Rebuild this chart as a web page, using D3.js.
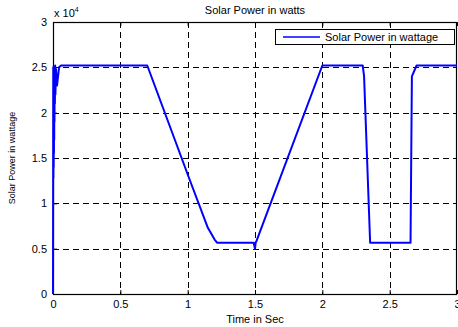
<!DOCTYPE html>
<html>
<head>
<meta charset="utf-8">
<script src="https://cdn.jsdelivr.net/npm/d3@7"></script>
<style>
  body { margin: 0; background: #fff; }
  text { font-family: "Liberation Sans", Arial, sans-serif; }
</style>
</head>
<body>
<div id="chart"></div>
<script>
// time in seconds
const timeSec = [0, 0.002, 0.003, 0.004, 0.005, 0.006, 0.007, 0.008, 0.009, 0.010, 0.011, 0.012, 0.014, 0.016, 0.018, 0.022, 0.030, 0.045, 0.060,
  0.70, 1.015, 1.15, 1.20, 1.22, 1.49, 1.50, 1.505, 1.51, 2.0,
  2.30, 2.31, 2.355, 2.655, 2.665, 2.70, 3.0];
// power in watts
const solarPower = [0, 25000, 12800, 24600, 14000, 25000, 15500, 24800, 17000, 25100, 19000, 24500, 21000, 25200, 22000, 24800, 23000, 25000, 25200,
  25200, 12600, 7300, 6000, 5650, 5650, 5000, 5700, 5800, 25200,
  25200, 24000, 5650, 5650, 24000, 25200, 25200];
const xTicks = [0, 0.5, 1, 1.5, 2, 2.5, 3];
const yTicks = [0, 5000, 10000, 15000, 20000, 25000, 30000];
const yTickLabels = ["0", "0.5", "1", "1.5", "2", "2.5", "3"];

const W = 458, H = 327;
const margin = {top: 22, right: 1, bottom: 33, left: 53};
const width = W - margin.left - margin.right,
      height = H - margin.top - margin.bottom;

const svg = d3.select("#chart").append("svg")
  .attr("width", W).attr("height", H);
const g = svg.append("g")
  .attr("transform", `translate(${margin.left},${margin.top})`);

const x = d3.scaleLinear().domain([0, 3]).range([0, width]);
const y = d3.scaleLinear().domain([0, 30000]).range([height, 0]);

// grid lines
g.append("g").selectAll("line")
  .data(xTicks.slice(1, -1))
  .join("line")
    .attr("x1", d => Math.round(x(d)) + 0.5).attr("x2", d => Math.round(x(d)) + 0.5)
    .attr("y1", 0).attr("y2", height)
    .attr("stroke", "#000").attr("stroke-dasharray", "6,4");
g.append("g").selectAll("line")
  .data(yTicks.slice(1, -1))
  .join("line")
    .attr("x1", 0).attr("x2", width)
    .attr("y1", d => Math.round(y(d)) + 0.5).attr("y2", d => Math.round(y(d)) + 0.5)
    .attr("stroke", "#000").attr("stroke-dasharray", "6,4");

// axes
g.append("g")
  .attr("transform", `translate(0,${height})`)
  .call(d3.axisBottom(x).tickValues(xTicks).tickFormat(d3.format("")).tickSizeInner(-4).tickSizeOuter(0).tickPadding(6))
  .call(a => a.select(".domain").remove())
  .selectAll("text").style("font-size", "11px").attr("fill", "#000");
g.append("g")
  .call(d3.axisLeft(y).tickValues(yTicks).tickFormat((d, i) => yTickLabels[i]).tickSizeInner(-4).tickSizeOuter(0).tickPadding(6))
  .call(a => a.select(".domain").remove())
  .selectAll("text").style("font-size", "11px").attr("fill", "#000");
// top ticks
g.append("g")
  .call(d3.axisTop(x).tickValues(xTicks).tickFormat("").tickSizeInner(-4).tickSizeOuter(0))
  .call(a => a.select(".domain").remove());

// frame
g.append("rect")
  .attr("x", 0.5).attr("y", 0.5)
  .attr("width", width - 1).attr("height", height)
  .attr("fill", "none").attr("stroke", "#000").attr("stroke-width", 1.2);

// data line
const pts = timeSec.map((t, i) => [t, solarPower[i]]);
g.append("path")
  .datum(pts)
  .attr("fill", "none")
  .attr("stroke", "#0000ff")
  .attr("stroke-width", 2)
  .attr("stroke-linejoin", "round")
  .attr("d", d3.line().x(d => x(d[0])).y(d => y(d[1])));

// exponent label
const ex = svg.append("text").attr("x", 54).attr("y", 17).style("font-size", "11px");
ex.append("tspan").text("x 10");
ex.append("tspan").attr("dy", -5).style("font-size", "7px").text("4");

// title and axis labels
svg.append("text").attr("x", margin.left + width / 2).attr("y", 14)
  .attr("text-anchor", "middle").style("font-size", "11px").text("Solar Power in watts");
svg.append("text").attr("x", margin.left + width / 2).attr("y", 323)
  .attr("text-anchor", "middle").style("font-size", "11px").text("Time in Sec");
svg.append("text")
  .attr("transform", `translate(15,${margin.top + height / 2}) rotate(-90)`)
  .attr("text-anchor", "middle").style("font-size", "9px").text("Solar Power in wattage");

// legend
const legend = svg.append("g").attr("transform", "translate(275,29)");
legend.append("rect").attr("x", 0.5).attr("y", 0.5).attr("width", 179).attr("height", 15)
  .attr("fill", "#fff").attr("stroke", "#000");
legend.append("line").attr("x1", 8).attr("x2", 45).attr("y1", 8).attr("y2", 8)
  .attr("stroke", "#0000ff").attr("stroke-width", 1.5);
legend.append("text").attr("x", 50).attr("y", 12).style("font-size", "11px").text("Solar Power in wattage");
</script>
</body>
</html>
